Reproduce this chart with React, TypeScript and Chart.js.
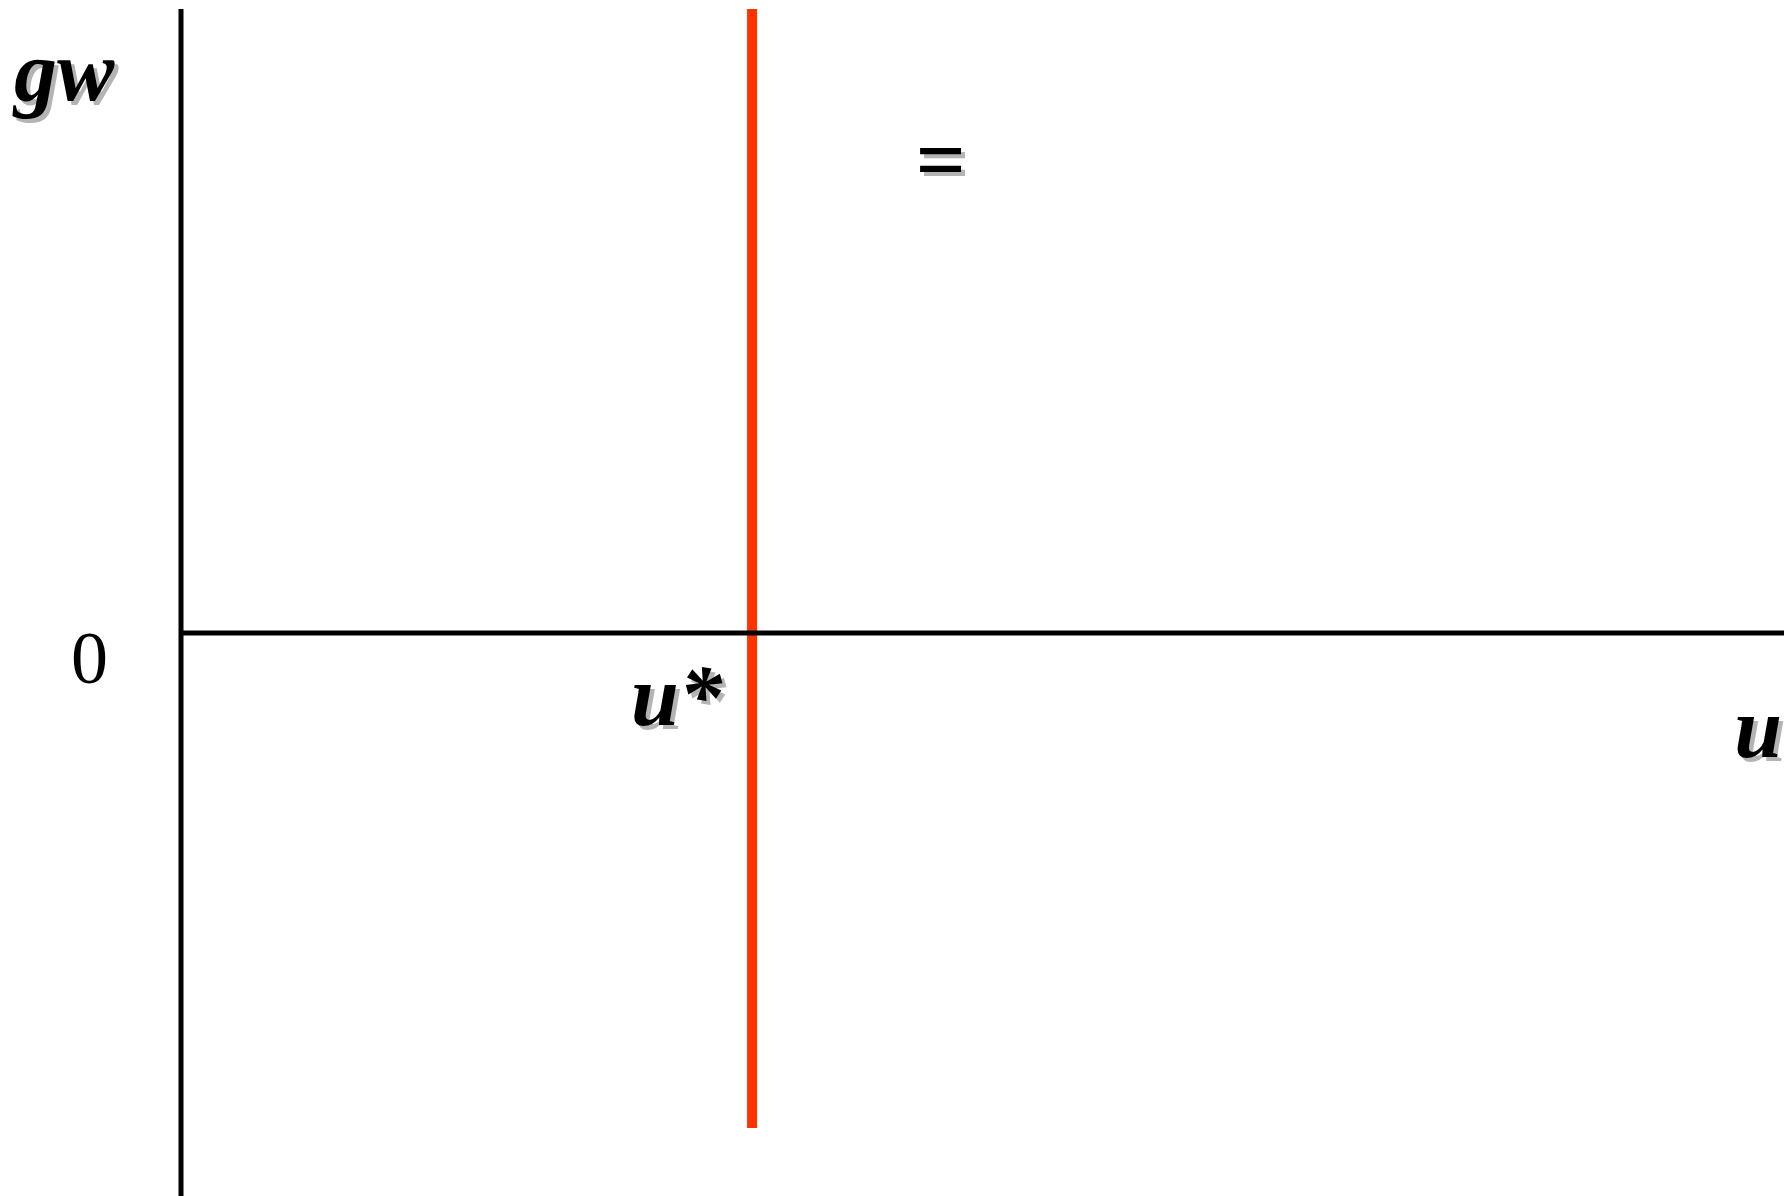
import React, { useEffect, useRef } from "react";
import { Chart, registerables } from "chart.js";

Chart.register(...registerables);

// Data (u on x, gw on y)
const uRange = [0, 2.807];
const gwRange = [-0.902, 1];
const uStarValue = [1];
const redLineGw = [-0.793, 1];
const axisLabels = ["gw", "u", "0", "u*"];

const SERIF = '"Liberation Serif", "Times New Roman", serif';

function drawShadowText(ctx: CanvasRenderingContext2D, text: string, x: number, y: number, font: string, align: CanvasTextAlign = "left") {
  ctx.save();
  ctx.font = font;
  ctx.textAlign = align;
  ctx.textBaseline = "alphabetic";
  ctx.fillStyle = "#b4b4b4";
  ctx.fillText(text, x + 4, y + 4);
  ctx.fillStyle = "#000000";
  ctx.fillText(text, x, y);
  ctx.restore();
}

const labelPlugin = {
  id: "labels",
  afterDatasetsDraw(chart: any) {
    const ctx: CanvasRenderingContext2D = chart.ctx;
    const xs = chart.scales.x;
    const ys = chart.scales.y;
    const x0 = xs.getPixelForValue(0);
    const y0 = ys.getPixelForValue(0);
    const yTop = ys.getPixelForValue(gwRange[1]);
    const xEnd = xs.getPixelForValue(uRange[1]);
    const xStar = xs.getPixelForValue(uStarValue[0]);
    const bi = `italic bold 86px ${SERIF}`;
    // gw
    drawShadowText(ctx, axisLabels[0], x0 - 167, yTop + 91, bi);
    // u (x-axis title)
    drawShadowText(ctx, axisLabels[1], xEnd - 2, y0 + 124, bi, "right");
    // 0
    ctx.save();
    ctx.font = `74px ${SERIF}`;
    ctx.fillStyle = "#000";
    ctx.textAlign = "left";
    ctx.fillText(axisLabels[2], x0 - 110, y0 + 50);
    ctx.restore();
    // u*
    drawShadowText(ctx, axisLabels[3], xStar - 121, y0 + 92, bi);
    // "=" sign
    drawShadowText(ctx, "=", xStar + 163, yTop + 181, `italic bold 88px ${SERIF}`);
  },
};

export default function App() {
  const ref = useRef<HTMLCanvasElement>(null);
  useEffect(() => {
    if (!ref.current) return;
    const chart = new Chart(ref.current, {
      type: "scatter",
      data: {
        datasets: [
          {
            data: [
              { x: uRange[0], y: 0 },
              { x: uRange[1], y: 0 },
            ],
            showLine: true,
            borderColor: "#000",
            borderWidth: 5,
            pointRadius: 0,
            clip: false as any,
          },
          {
            data: [
              { x: uRange[0], y: gwRange[0] },
              { x: uRange[0], y: gwRange[1] },
            ],
            showLine: true,
            borderColor: "#000",
            borderWidth: 5,
            pointRadius: 0,
            clip: false as any,
          },
          {
            data: [
              { x: uStarValue[0], y: redLineGw[0] },
              { x: uStarValue[0], y: redLineGw[1] },
            ],
            showLine: true,
            borderColor: "#FF3300",
            borderWidth: 10,
            pointRadius: 0,
            clip: false as any,
          },
        ],
      },
      options: {
        animation: false,
        responsive: false,
        layout: { padding: { left: 181, top: 9, right: 3, bottom: 0 } },
        plugins: { legend: { display: false }, tooltip: { enabled: false } },
        scales: {
          x: { type: "linear", min: uRange[0], max: uRange[1], display: false },
          y: { type: "linear", min: gwRange[0], max: gwRange[1], display: false },
        },
      },
      plugins: [labelPlugin],
    });
    return () => chart.destroy();
  }, []);
  return (
    <div style={{ position: "absolute", left: 0, top: 0, width: 1787, height: 1196, background: "#fff" }}>
      <canvas ref={ref} width={1787} height={1196} style={{ display: "block" }} />
    </div>
  );
}
